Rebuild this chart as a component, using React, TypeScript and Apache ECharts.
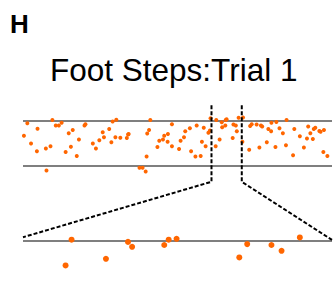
import React, { useEffect, useRef } from "react";
import * as echarts from "echarts";

// Foot-step events: time (% of trial) and normalized step height (0 = lower bound, 1 = upper bound)
const stepTimes: number[] = [
  0.3, 1.4, 2.6, 4.5, 4.7, 7.6, 7.4, 8.9, 9.5, 10.6, 11.6, 12.5, 13.8, 14.8, 16.1, 15.5, 17.4, 18.1,
  19.9, 20.2, 22.6, 23.6, 24.7, 25.8, 26.2, 27.9, 28.6, 29.0, 30.2, 29.9, 31.5, 33.6, 34.0, 34.2,
  37.7, 38.7, 39.7, 40.0, 40.2, 40.8, 41.2, 43.5, 44.1, 45.3, 45.7, 46.8, 46.9, 48.2, 48.2, 50.5,
  51.0, 52.1, 52.5, 54.0, 54.4, 55.8, 57.5, 56.2, 57.9, 58.5, 59.1, 60.0, 60.5, 60.7,
  62.35, 62.54, 63.63, 64.33, 64.46, 65.48, 65.62, 65.87, 67.86, 68.11, 68.88, 69.2, 69.78,
  71.0, 71.2, 73.2, 73.5, 74.0, 75.6, 76.5, 77.0, 77.4, 78.9, 79.4, 80.3, 80.4, 81.7, 82.0, 83.0,
  84.1, 85.1, 85.3, 87.4, 87.8, 89.6, 90.9, 91.9, 92.3, 93.0, 93.8, 94.1, 94.6, 95.9, 96.3, 97.4,
  97.2, 98.5,
];
const stepValues: number[] = [
  0.67, 0.95, 0.5, 0.33, 0.83, -0.1, 0.39, 0.44, 1.02, 0.9, 0.9, 0.96, 0.31, 0.73, 0.8, 0.43, 0.22, 0.59,
  0.9, 0.93, 0.5, 0.39, 0.57, 0.75, 0.64, 0.82, 0.53, 0.99, 1.03, 0.64, 0.63, 0.62, 0.7, 0.71,
  -0.04, -0.04, -0.12, 0.21, 0.72, 0.8, 1.02, 0.42, 0.56, 0.59, 0.67, 0.54, 0.71, 0.93, 0.44, 0.38,
  0.56, 0.64, 0.77, 0.84, 0.33, 0.21, 0.22, 0.9, 0.54, 0.85, 0.44, 0.74, 0.79, 1.06,
  0.44, 1.02, 0.59, 0.97, 0.86, 0.9, 1.02, 1.04, 0.62, 0.92, 0.9, 0.77, 1.07,
  0.54, 1.08, 0.36, 0.89, 0.93, 0.92, 0.41, 0.9, 0.88, 0.53, 0.82, 0.77, 0.96, 0.42, 0.98, 0.84,
  0.73, 0.46, 1.02, 0.24, 0.82, 0.66, 0.41, 0.61, 0.88, 0.73, 0.6, 0.82, 0.85, 0.78, 0.76, 0.8,
  0.31, 0.22,
];
const boundLines: number[] = [1, 0];
const zoomWindow: number[] = [61.0, 70.8];
const panelLetter = "H";
const chartTitle = "Foot Steps:Trial 1";

const ORANGE = "#FF6600";
const FONT = "'Liberation Sans', Arial, sans-serif";

export default function App() {
  const ref = useRef<HTMLDivElement>(null);
  useEffect(() => {
    if (!ref.current) return;
    const chart = echarts.init(ref.current, undefined, { renderer: "svg" });
    const points = stepTimes.map((t, i) => [t, stepValues[i]]);
    chart.setOption({
      animation: false,
      title: [
        {
          text: panelLetter,
          left: 10,
          top: 11,
          padding: 0,
          textStyle: { fontSize: 26, fontWeight: "bold", color: "#000", fontFamily: FONT },
        },
        {
          text: chartTitle,
          left: 50,
          top: 54,
          padding: 0,
          textStyle: { fontSize: 31.5, fontWeight: "normal", color: "#000", fontFamily: FONT },
        },
      ],
      grid: [
        { left: 23, width: 309, top: 112, height: 63 },
        { left: 23, width: 309, top: 229.45, height: 56.25 },
      ],
      xAxis: [
        { type: "value", gridIndex: 0, min: 0, max: 100, show: false },
        { type: "value", gridIndex: 1, min: zoomWindow[0], max: zoomWindow[1], show: false },
      ],
      yAxis: [
        { type: "value", gridIndex: 0, min: -0.2, max: 1.2, show: false },
        { type: "value", gridIndex: 1, min: 0, max: 1.25, show: false },
      ],
      series: [
        {
          type: "scatter",
          xAxisIndex: 0,
          yAxisIndex: 0,
          data: points,
          symbolSize: 4,
          itemStyle: { color: ORANGE, opacity: 1 },
          markLine: {
            silent: true,
            symbol: "none",
            label: { show: false },
            lineStyle: { color: "#555", width: 1.5, type: "solid" },
            data: boundLines.map((v) => ({ yAxis: v })),
            z: 1,
          },
          z: 3,
        },
        {
          type: "scatter",
          xAxisIndex: 1,
          yAxisIndex: 1,
          data: points,
          clip: true,
          symbolSize: 6,
          itemStyle: { color: ORANGE, opacity: 1 },
          markLine: {
            silent: true,
            symbol: "none",
            label: { show: false },
            lineStyle: { color: "#555", width: 1.5, type: "solid" },
            data: [{ yAxis: boundLines[0] }],
            z: 1,
          },
          z: 3,
        },
      ],
    });

    const p = (g: number, x: number, y: number) =>
      chart.convertToPixel({ gridIndex: g } as any, [x, y]) as number[];
    const leftTop = p(0, zoomWindow[0], 1.35);
    const leftBot = p(0, zoomWindow[0], -0.35);
    const leftEnd = p(1, zoomWindow[0], 1.075);
    const rightTop = p(0, zoomWindow[1], 1.35);
    const rightBot = p(0, zoomWindow[1], -0.35);
    const rightEnd = p(1, zoomWindow[1], 1.015);
    const dashStyle = { stroke: "#000", lineWidth: 2, lineDash: [4, 2], fill: null };
    chart.setOption({
      graphic: [
        { type: "polyline", shape: { points: [leftTop, leftBot, leftEnd] }, style: dashStyle, z: 10 },
        { type: "polyline", shape: { points: [rightTop, rightBot, rightEnd] }, style: dashStyle, z: 10 },
      ],
    });
    return () => chart.dispose();
  }, []);
  return (
    <div
      ref={ref}
      style={{ position: "fixed", left: 0, top: 0, width: 333, height: 285, background: "#fff" }}
    />
  );
}
